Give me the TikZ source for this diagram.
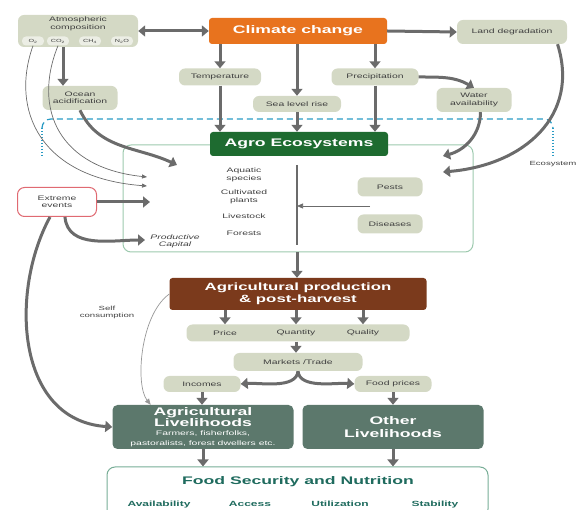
\documentclass[tikz,border=0pt]{standalone}
\usepackage{fontspec}
\setmainfont{Liberation Sans}[FakeStretch=1.6]
\usepackage{xcolor}
\usepackage{tikz}
\usetikzlibrary{arrows.meta,positioning}

\definecolor{pillgray}{HTML}{D4D9C5}
\definecolor{flowgray}{HTML}{6B6B6B}
\definecolor{climate}{HTML}{E8731E}
\definecolor{agro}{HTML}{1E6B30}
\definecolor{prod}{HTML}{7B3A1C}
\definecolor{liveli}{HTML}{5C786C}
\definecolor{ecogreen}{HTML}{9DC9AE}
\definecolor{dashblue}{HTML}{2A9BC4}
\definecolor{fsn}{HTML}{1F6B5E}
\definecolor{redline}{HTML}{E06A72}

\tikzset{
  pill/.style={fill=pillgray, rounded corners=6pt, text=black!75, font=\fontsize{6.5}{7.5}\selectfont, align=center, inner sep=1pt},
  gas/.style={fill=pillgray!45!white, rounded corners=4pt, text=black!75, font=\fontsize{4.5}{5.5}\selectfont, minimum width=22pt, minimum height=9pt, inner sep=0.5pt},
  head/.style={rounded corners=3pt, text=white, font=\bfseries\fontsize{11}{12}\selectfont, align=center},
  note/.style={text=black!75, font=\fontsize{6.5}{7.5}\selectfont, align=center, inner sep=1pt},
  pillar/.style={text=fsn, font=\bfseries\fontsize{7.5}{9}\selectfont, anchor=base},
  flow/.style={color=flowgray, line width=3pt, -{Triangle[width=11pt,length=7pt]}},
  slimflow/.style={color=flowgray, line width=0.7pt, -{Triangle[width=5pt,length=6pt]}}
}

\begin{document}
\begin{tikzpicture}[x=1pt,y=-1pt]
  \useasboundingbox (0,0) rectangle (579,510);

  \node[pill, minimum width=120pt, minimum height=32pt] (atmo) at (78,31) {};
  \node[note] (atmotext) at (78,24) {Atmospheric\\composition};
  \node[gas] (o2) at (33,41) {O\textsubscript{2}};
  \node[gas] (co2) at (58,41) {CO\textsubscript{2}};
  \node[gas] (ch4) at (90,41) {CH\textsubscript{4}};
  \node[gas] (n2o) at (122,41) {N\textsubscript{2}O};

  \node[head, fill=climate, minimum width=178pt, minimum height=26pt] (cc) at (298,31) {Climate change};
  \node[pill, minimum width=110pt, minimum height=24pt] (land) at (512,32) {Land degradation};
  \node[pill, minimum width=82pt, minimum height=17pt] (temp) at (220,77) {Temperature};
  \node[pill, minimum width=88pt, minimum height=16pt] (sea) at (297,104) {Sea level rise};
  \node[pill, minimum width=87pt, minimum height=17pt] (precip) at (375,77) {Precipitation};
  \node[pill, minimum width=75pt, minimum height=24pt] (water) at (474,100) {Water\\availability};
  \node[pill, minimum width=75pt, minimum height=24pt] (ocean) at (80,98) {Ocean\\acidification};

  \draw[dashblue, line width=1.2pt, dash pattern=on 6pt off 4pt] (42,128) to[out=90,in=180] (51,119) -- (544,119) to[out=0,in=90] (553,128);
  \draw[dashblue, line width=1.2pt, dash pattern=on 1.5pt off 1.5pt] (42,128) -- (42,157) (553,128) -- (553,158);
  \node[note, font=\fontsize{6}{7}\selectfont] (ecolabel) at (553,164) {Ecosystem};

  \node[draw=ecogreen, line width=1pt, rounded corners=8pt, minimum width=350pt, minimum height=107pt] (eco) at (298,198.5) {};
  \node[head, fill=agro, minimum width=178pt, minimum height=24pt] (agro) at (299,144) {Agro Ecosystems};

  \node[note] (aquatic) at (244,175) {Aquatic\\species};
  \node[note] (plants) at (244,197) {Cultivated\\plants};
  \node[note] (livestock) at (244,216) {Livestock};
  \node[note] (forests) at (244,233) {Forests};
  \node[note, font=\itshape\fontsize{6.5}{7}\selectfont] (capital) at (175,241) {Productive\\Capital};
  \node[pill, minimum width=65pt, minimum height=19pt] (pests) at (390,187) {Pests};
  \node[pill, minimum width=65pt, minimum height=19pt] (diseases) at (390,224) {Diseases};
  \coordinate (vtop) at (297,165);
  \coordinate (vbot) at (297,245);
  \coordinate (pd) at (370,206);
  \draw[flowgray, line width=1.2pt] (vtop) -- (vbot);
  \draw[slimflow] (pd) -- (pd -| vtop);

  \node[draw=redline, line width=1pt, fill=white, rounded corners=7pt, minimum width=79pt, minimum height=29pt, note] (extreme) at (57,202) {Extreme\\events};

  \node[head, fill=prod, font=\bfseries\fontsize{10.5}{12.5}\selectfont, minimum width=257pt, minimum height=32pt] (agprod) at (298,294) {Agricultural production\\\& post-harvest};
  \node[pill, minimum width=223pt, minimum height=17pt] (pqq) at (298,333) {};
  \node[note] (price) at (225,333) {Price};
  \node[note] (quantity) at (296,333) {Quantity};
  \node[note] (quality) at (363,333) {Quality};
  \node[pill, minimum width=129pt, minimum height=18pt] (markets) at (298,362) {Markets /Trade};
  \node[pill, minimum width=77pt, minimum height=16pt] (incomes) at (202,384) {Incomes};
  \node[pill, minimum width=77pt, minimum height=16pt] (foodprices) at (393,384) {Food prices};
  \node[note, font=\fontsize{6}{7}\selectfont] (selfcons) at (107,312) {Self\\consumption};

  \node[rounded corners=5pt, fill=liveli, text=white, align=center, minimum width=181pt, minimum height=44pt, inner sep=1pt] (agliv) at (203,427)
    {{\bfseries\fontsize{11}{11.5}\selectfont Agricultural}\\[-1.5pt]{\bfseries\fontsize{11}{11.5}\selectfont Livelihoods}\\[-2.5pt]{\fontsize{6.5}{6.5}\selectfont Farmers, fisherfolks,}\\[-2.5pt]{\fontsize{6.5}{6.5}\selectfont pastoralists, forest dwellers etc.}};
  \node[rounded corners=5pt, fill=liveli, text=white, align=center, minimum width=181pt, minimum height=44pt, font=\bfseries\fontsize{11}{12.5}\selectfont] (othliv) at (393,427) {Other\\Livelihoods};

  \node[draw=ecogreen!70!fsn, line width=1pt, rounded corners=8pt, minimum width=381pt, minimum height=50pt] (fsnbox) at (297.5,492) {};
  \node[text=fsn, font=\bfseries\fontsize{11}{12}\selectfont] (fsntitle) at (298,482) {Food Security and Nutrition};
  \node[pillar] (avail) at (159,507) {Availability};
  \node[pillar] (access) at (250,507) {Access};
  \node[pillar] (util) at (340,507) {Utilization};
  \node[pillar] (stab) at (435,507) {Stability};

  \coordinate (oceanin) at (177,165);
  \coordinate (o2in) at (147,186);
  \coordinate (co2in) at (147,177);
  \coordinate (extin) at (150,202);
  \coordinate (capin) at (145,240);
  \coordinate (waterin) at (443,156);
  \coordinate (landin) at (443,172);

  \path[flow, {Triangle[width=11pt,length=7pt]}-{Triangle[width=11pt,length=7pt]}] (atmo.east) edge (cc.west);
  \path[flow]
    (cc.east) edge (land.west)
    (cc.south -| temp.north) edge (temp.north)
    (cc.south -| sea.north) edge (sea.north)
    (cc.south -| precip.north) edge (precip.north)
    (temp.south) edge (temp.south |- agro.north)
    (sea.south) edge (sea.south |- agro.north)
    (precip.south) edge (precip.south |- agro.north)
    (atmo.south -| 63,0) edge (ocean.north -| 63,0)
    (precip.east) edge[out=0,in=150] (water.north)
    (water.-62) edge[out=-90,in=15] (waterin)
    (ocean.south) edge[out=-65,in=155] (oceanin)
    (extreme.east) edge (extin)
    (extreme.-62) edge[out=-85,in=180] (capin)
    (eco.south -| vbot) edge (agprod.north -| vbot)
    (agprod.south -| price) edge (pqq.north -| price)
    (agprod.south -| quantity) edge (pqq.north -| quantity)
    (agprod.south -| quality) edge (pqq.north -| quality)
    (pqq.south -| quantity) edge (markets.north -| quantity)
    (markets.south) edge[out=-95,in=5,looseness=0.8] (incomes.east)
    (markets.south) edge[out=-85,in=175,looseness=0.8] (foodprices.west)
    (incomes.south) edge (agliv.north -| incomes.south)
    (foodprices.south) edge (othliv.north -| foodprices.south)
    (agliv.south) edge (fsnbox.north -| agliv.south)
    (othliv.south) edge (fsnbox.north -| othliv.south);
  \draw[flow] (land.-15) .. controls (580,115) and (525,165) .. (landin);
  \draw[flow] (extreme.-115) .. controls (10,290) and (15,420) .. (agliv.west);
  \draw[slimflow, -{Triangle[width=4pt,length=5pt]}] (o2.south) .. controls (10,110) and (40,178) .. (o2in);
  \draw[slimflow, -{Triangle[width=4pt,length=5pt]}] (co2.south) .. controls (32,110) and (60,168) .. (co2in);
  \draw[slimflow, color=flowgray!70] (agprod.west) .. controls (140,315) and (135,385) .. (agliv.157);
\end{tikzpicture}
\end{document}
